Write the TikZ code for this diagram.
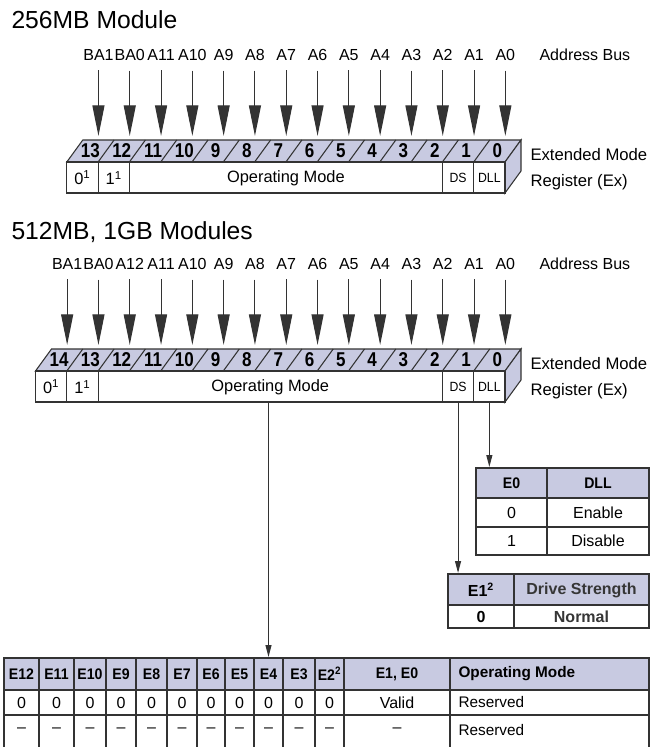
\documentclass[tikz,border=0pt]{standalone}
\usepackage{fontspec}
\setmainfont{Liberation Sans}
\newfontfamily\narrowsf[FakeStretch=0.92]{Liberation Sans}
\newfontfamily\condsf[FakeStretch=0.85]{Liberation Sans}
\usetikzlibrary{arrows.meta, positioning, calc}
\definecolor{cline}{HTML}{333333}
\definecolor{cfill}{HTML}{C8CAE1}
\definecolor{cdark}{HTML}{363636}
\tikzset{
  every picture/.style={line width=0.8pt},
  headline/.style={font=\fontsize{18.5}{21}\selectfont, anchor=west, inner sep=0pt},
  buslabel/.style={font=\fontsize{12}{14}\selectfont, inner sep=0pt},
  busarrow/.style={-{Triangle[length=23pt, width=9pt]}, draw=cline, line width=0.8pt, shorten <=7pt},
  face/.style={draw=cline, fill=cfill, line width=0.8pt},
  front/.style={draw=cline, fill=white, line width=0.8pt},
  bitnum/.style={font=\condsf\bfseries\fontsize{15}{16}\selectfont, inner sep=0pt},
  regtext/.style={font=\fontsize{12.3}{14}\selectfont, inner sep=0pt},
  regsmall/.style={font=\narrowsf\fontsize{10}{12}\selectfont, inner sep=0pt},
  sidetext/.style={font=\fontsize{12.5}{14}\selectfont, anchor=west, inner sep=0pt},
  fieldarrow/.style={-{Triangle[length=9pt, width=4.5pt]}, draw=cline, line width=0.8pt},
  tabline/.style={draw=cline, line width=0.9pt},
  tabhead/.style={font=\narrowsf\bfseries\fontsize{11.5}{13}\selectfont, inner sep=0pt},
  tabcell/.style={font=\fontsize{12}{14}\selectfont, inner sep=0pt},
}

\begin{document}
\begin{tikzpicture}[x=0.75pt, y=-0.75pt]
  \useasboundingbox (0,0) rectangle (665,747);
  % ---------- titles
  \node[headline] (t256) at (11,20) {256MB Module};
  \node[headline] (t512) at (11,232) {512MB, 1GB Modules};
  % ---------- the two registers
  \foreach \yo/\nc/\xl/\rg in {0/14/66.8/a, 209/15/35.5/b}{
    \begin{scope}[shift={(0,\yo)}]
      \pgfmathtruncatemacro\last{\nc-1}
      \draw[face] (\xl,162) -- (505,162) -- (521,140) -- ({\xl+16},140) -- cycle;
      \draw[face] (505,162) -- (521,140) -- (521,171) -- (505,193) -- cycle;
      \draw[front] (\xl,162) rectangle (505,193);
      \foreach \i in {0,...,\last}{
        \pgfmathsetmacro\cx{\xl+(\i+0.5)*31.3}
        \pgfmathtruncatemacro\bit{\nc-1-\i}
        \ifnum\i>0 \draw[cline] ({\xl+\i*31.3},162) -- ({\xl+\i*31.3+16},140); \fi
        \node[bitnum] at ({\cx+8},151) {\bit};
        \coordinate (\rg c\i) at ({\cx+16},136);
        \node[buslabel] (\rg l\i) at ({\cx+16},55) {\ifnum\i=0 BA1\else\ifnum\i=1 BA0\else A\bit\fi\fi};
        \draw[busarrow] (\rg l\i.south) -- (\rg c\i);
      }
      \draw[cline] ({\xl+31.3},162) -- ({\xl+31.3},193);
      \draw[cline] ({\xl+62.6},162) -- ({\xl+62.6},193);
      \draw[cline] (442.4,162) -- (442.4,193);
      \draw[cline] (473.7,162) -- (473.7,193);
      \node[regtext] (\rg zero) at ({\xl+15.65},178) {0\textsuperscript{1}};
      \node[regtext] (\rg one) at ({\xl+46.95},178) {1\textsuperscript{1}};
      \node[regtext] (\rg op) at ({(\xl+62.6+442.4)/2},178) {Operating Mode};
      \node[regsmall] (\rg ds) at (458.05,178) {DS};
      \node[regsmall] (\rg dll) at (489.35,178) {DLL};
      \node[buslabel, anchor=west] (\rg bus) at (539,55) {Address Bus};
      \node[sidetext] (\rg ext) at (530,155) {Extended Mode};
      \node[sidetext] (\rg reg) at (530,182) {Register (Ex)};
    \end{scope}
  }
  % ---------- field arrows
  \coordinate (dllout) at (489.35,402);
  \coordinate (dsout) at (458.05,402);
  \coordinate (opout) at (268.5,402);
  \coordinate (dllin) at (489.35,467);
  \coordinate (dsin) at (458.05,573);
  \coordinate (opin) at (268.5,657);
  \draw[fieldarrow] (dllout) -- (dllin);
  \draw[fieldarrow] (dsout) -- (dsin);
  \draw[fieldarrow] (opout) -- (opin);
  % ---------- DLL table
  \fill[cfill] (476,468) rectangle (649,498);
  \draw[tabline] (476,468) rectangle (649,555);
  \draw[tabline] (476,498) -- (649,498) (476,527) -- (649,527) (547,468) -- (547,555);
  \node[tabhead] (e0h) at (511.5,483) {E0};
  \node[tabhead] (dllh) at (598,483) {DLL};
  \node[tabcell] (e0a) at (511.5,512.5) {0};
  \node[tabcell] (dlla) at (598,512.5) {Enable};
  \node[tabcell] (e0b) at (511.5,541) {1};
  \node[tabcell] (dllb) at (598,541) {Disable};
  % ---------- drive strength table
  \fill[cfill] (448,574) rectangle (649,605);
  \draw[tabline] (448,574) rectangle (649,628);
  \draw[tabline] (448,605) -- (649,605) (514,574) -- (514,628);
  \node[tabhead, font=\bfseries\fontsize{12}{14}\selectfont] (e1h) at (481,590) {E1\textsuperscript{2}};
  \node[tabhead, font=\bfseries\fontsize{12}{14}\selectfont, text=cdark] (drvh) at (581.5,590) {Drive Strength};
  \node[tabhead, font=\bfseries\fontsize{12}{14}\selectfont] (e1a) at (481,616.5) {0};
  \node[tabhead, font=\bfseries\fontsize{12}{14}\selectfont, text=cdark] (drva) at (581.5,616.5) {Normal};
  % ---------- operating mode table
  \fill[cfill] (4,658) rectangle (649,690);
  \draw[tabline] (4,747) -- (4,658) -- (649,658) -- (649,747);
  \draw[tabline] (4,690) -- (649,690) (4,715) -- (649,715);
  \foreach \l/\r/\t [count=\k] in {4/39/E12, 39/74/E11, 74/106/E10, 106/136/E9, 136/167/E8,
      167/197/E7, 197/225/E6, 225/254/E5, 254/283/E4, 283/315/E3, 315/344/E2\textsuperscript{2}}{
    \draw[tabline] (\r,658) -- (\r,747);
    \node[tabhead] (h\k) at ({(\l+\r)/2},674) {\t};
    \node[tabcell] (z\k) at ({(\l+\r)/2},702.5) {0};
    \node[tabcell] (d\k) at ({(\l+\r)/2},730) {\textendash};
  }
  \draw[tabline] (450,658) -- (450,747);
  \node[tabhead] (e10h) at (397,674) {E1, E0};
  \node[tabcell] (e10a) at (397,702.5) {Valid};
  \node[tabcell] (e10b) at (397,730) {\textendash};
  \node[tabhead, anchor=west, font=\bfseries\fontsize{11.5}{13}\selectfont] (omh) at (458,674) {Operating Mode};
  \node[tabcell, anchor=west, font=\fontsize{11.5}{13}\selectfont] (oma) at (458,702.5) {Reserved};
  \node[tabcell, anchor=west, font=\fontsize{11.5}{13}\selectfont] (omb) at (458,730) {Reserved};
\end{tikzpicture}
\end{document}
